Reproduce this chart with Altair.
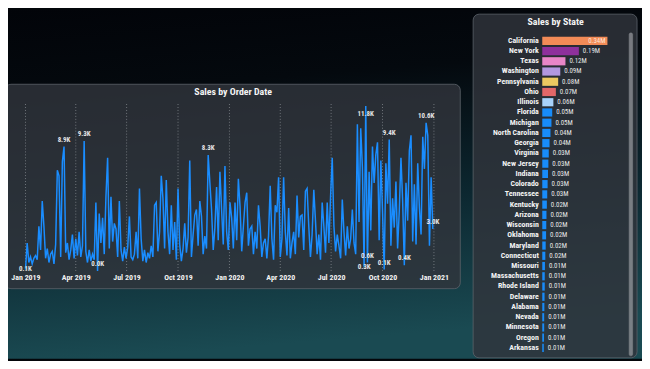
import altair as alt
import pandas as pd

W, H = 642, 353
FONT = "Liberation Sans Narrow, Roboto Condensed, Roboto, sans-serif"

# ---------------- data ----------------
# daily-ish sales (thousands), one reading every 3 days from 2019-01-01
sales_k = [
    0.1, 2.0, 0.6, 1.0, 0.5, 0.9, 1.1, 0.8, 3.2, 1.5,
    5.0, 3.2, 0.9, 1.6, 0.6, 1.2, 1.4, 0.5, 1.9, 7.2,
    6.8, 1.0, 7.8, 8.9, 1.3, 2.0, 0.8, 1.5, 2.6, 0.9,
    2.3, 1.1, 2.8, 1.0, 1.8, 9.3, 1.4, 0.6, 1.5, 0.7,
    1.2, 0.8, 4.9, 0.0, 4.1, 2.0, 3.8, 1.2, 5.3, 8.1,
    1.6, 5.3, 2.1, 3.4, 3.0, 1.0, 5.0, 1.5, 0.7, 1.7,
    0.9, 1.7, 3.9, 1.0, 0.8, 1.2, 2.8, 0.9, 5.9, 2.3,
    0.7, 1.5, 0.6, 1.3, 0.9, 1.8, 1.0, 4.7, 4.9, 1.4,
    2.8, 6.8, 5.2, 1.6, 6.5, 2.8, 1.2, 4.7, 1.5, 3.5,
    0.8, 5.9, 1.9, 0.7, 1.6, 3.4, 1.3, 2.4, 7.9, 1.0,
    2.6, 4.0, 4.4, 1.8, 5.0, 3.9, 1.2, 2.5, 1.6, 8.3,
    6.3, 4.4, 1.5, 3.1, 6.0, 2.2, 7.1, 4.4, 1.9, 7.5,
    2.8, 1.5, 4.9, 3.8, 1.6, 4.9, 2.2, 6.6, 4.6, 1.4,
    3.2, 4.9, 5.6, 1.8, 3.0, 3.2, 1.2, 2.8, 1.6, 4.7,
    3.2, 1.0, 2.0, 2.3, 0.9, 2.5, 6.1, 2.3, 0.8, 4.7,
    4.2, 6.7, 1.0, 2.3, 6.7, 2.8, 1.1, 4.5, 0.9, 2.0,
    2.8, 1.2, 5.4, 2.4, 3.9, 4.0, 1.5, 5.7, 5.9, 3.2,
    1.0, 2.6, 5.8, 3.6, 1.2, 2.6, 0.8, 4.9, 3.2, 1.3,
    4.9, 2.0, 5.3, 8.1, 3.2, 1.4, 2.6, 1.8, 0.9, 5.1,
    2.8, 1.1, 3.2, 1.6, 2.3, 4.4, 2.0, 1.2, 10.5, 3.5,
    10.2, 7.4, 0.3, 11.8, 0.6, 7.1, 2.9, 8.9, 6.3, 8.3,
    9.2, 2.2, 7.9, 4.3, 0.1, 7.7, 4.8, 9.4, 1.8, 5.2,
    3.1, 6.4, 1.6, 4.3, 8.1, 5.0, 0.4, 6.3, 3.6, 8.6,
    9.7, 2.1, 6.2, 1.9, 7.7, 4.5, 2.6, 9.6, 7.3, 10.6,
    9.7, 1.8, 6.7, 3.0,
]
series_start = "2019-01-01"
series_step = "3D"

quarter_ticks = ["2019-01-01", "2019-04-01", "2019-07-01", "2019-10-01",
                 "2020-01-01", "2020-04-01", "2020-07-01", "2020-10-01",
                 "2021-01-01"]

# dates of the points that carry a data label
labels_above = ["2019-03-11", "2019-04-16", "2019-05-10", "2019-11-24",
                "2020-09-04", "2020-10-04", "2020-10-13", "2020-11-09",
                "2020-12-18", "2020-12-30"]
labels_below = ["2020-09-01"]
labels_level = ["2019-01-01", "2020-08-29"]

states = ["California", "New York", "Texas", "Washington", "Pennsylvania",
          "Ohio", "Illinois", "Florida", "Michigan", "North Carolina",
          "Georgia", "Virginia", "New Jersey", "Indiana", "Colorado",
          "Tennessee", "Kentucky", "Arizona", "Wisconsin", "Oklahoma",
          "Maryland", "Connecticut", "Missouri", "Massachusetts",
          "Rhode Island", "Delaware", "Alabama", "Nevada", "Minnesota",
          "Oregon", "Arkansas"]
state_sales_m = [0.340, 0.191, 0.121, 0.094, 0.083, 0.071, 0.058, 0.052,
                 0.048, 0.043, 0.038, 0.034, 0.032, 0.030, 0.028, 0.026,
                 0.024, 0.022, 0.021, 0.020, 0.018, 0.016, 0.014, 0.013,
                 0.013, 0.012, 0.011, 0.010, 0.010, 0.009, 0.008]

title_left = "Sales by Order Date"
title_right = "Sales by State"

# ---------------- styles ----------------
BLUE = "#1a8dff"
bar_colors = ["#f28b57", "#8e309c", "#e886c8", "#b298e0", "#ecc961",
              "#e26768", "#a8d2fa"] + ["#188cfa"] * (len(states) - 7)

# ---------------- frames ----------------
dates = pd.date_range(series_start, periods=len(sales_k), freq=series_step)
ts = pd.DataFrame({"date": dates, "sales": sales_k})
ts["label"] = ts["sales"].map(lambda v: f"{v:.1f}K")


def pick(ds):
    return ts[ts["date"].isin(pd.to_datetime(ds))]


grid_df = pd.DataFrame({"date": pd.to_datetime(quarter_ticks)})
st = pd.DataFrame({"state": states, "sales": state_sales_m})
st["label"] = st["sales"].map(lambda v: f"{v:.2f}M")
one = pd.DataFrame({"k": [0]})


def dt(s):
    return alt.DateTime(year=int(s[:4]), month=int(s[5:7]), date=int(s[8:10]))


# ---------------- decoration ----------------
bg = alt.Chart(one).mark_rect(
    fill=alt.LinearGradient(
        gradient="linear", x1=0, y1=0, x2=0.15, y2=1,
        stops=[alt.GradientStop(color="#020409", offset=0),
               alt.GradientStop(color="#04090e", offset=0.25),
               alt.GradientStop(color="#0c2730", offset=0.62),
               alt.GradientStop(color="#1a4a52", offset=1)])
).encode(x=alt.value(0), x2=alt.value(W), y=alt.value(0), y2=alt.value(H))

panel_style = dict(cornerRadius=6, fill="#31353c", fillOpacity=0.82,
                   stroke="#5d636b", strokeWidth=1, strokeOpacity=0.8)
panel_left = alt.Chart(one).mark_rect(**panel_style).encode(
    x=alt.value(-3), x2=alt.value(458), y=alt.value(75), y2=alt.value(282))
panel_right = alt.Chart(one).mark_rect(**panel_style).encode(
    x=alt.value(471), x2=alt.value(637), y=alt.value(4), y2=alt.value(352))
scrollbar = alt.Chart(one).mark_rect(
    cornerRadius=1.5, fill="#b9bcc0", fillOpacity=0.55,
    stroke="#7d8287", strokeWidth=0.6
).encode(x=alt.value(629), x2=alt.value(632.5), y=alt.value(23), y2=alt.value(350))

title_style = dict(font=FONT, fontSize=10, fontWeight="bold", color="#f4f4f4",
                   align="center", baseline="middle")
t_left = alt.Chart(pd.DataFrame({"t": [title_left]})).mark_text(**title_style).encode(
    x=alt.value(228), y=alt.value(83), text="t:N")
t_right = alt.Chart(pd.DataFrame({"t": [title_right]})).mark_text(**title_style).encode(
    x=alt.value(554.5), y=alt.value(11.5), text="t:N")

# ---------------- line chart ----------------
x_scale = alt.Scale(domain=[dt("2019-01-01"), dt("2021-01-01")], range=[17.7, 431.3])
y_scale = alt.Scale(domain=[0, 12], range=[264, 94.2])
x_axis = alt.Axis(orient="bottom", offset=-89, values=[dt(d) for d in quarter_ticks],
                  format="%b %Y", grid=False, domain=False, ticks=False,
                  labelPadding=3, labelFont=FONT, labelFontSize=8,
                  labelFontWeight="bold", labelColor="#f2f2f2",
                  labelOverlap=False, labelFlush=False, labelBound=False,
                  title=None, zindex=2)
x_enc = alt.X("date:T", scale=x_scale, axis=x_axis)
y_enc = alt.Y("sales:Q", scale=y_scale, axis=None)

grid = alt.Chart(grid_df).mark_rule(
    color="#a3a8ad", strokeDash=[1, 2], strokeWidth=1, opacity=0.6
).encode(
    x=x_enc,
    y=alt.YDatum(0, type="quantitative", scale=y_scale, axis=None),
    y2=alt.Y2Datum(12),
)
line = alt.Chart(ts).mark_line(color=BLUE, strokeWidth=1.5).encode(x=x_enc, y=y_enc)

lab_style = dict(font=FONT, fontSize=7, fontWeight="bold", color="#e6e6e6",
                 align="center", baseline="middle")
lab_above = alt.Chart(pick(labels_above)).mark_text(dy=-7, **lab_style).encode(
    x=x_enc, y=y_enc, text="label:N")
lab_below = alt.Chart(pick(labels_below)).mark_text(dy=8, **lab_style).encode(
    x=x_enc, y=y_enc, text="label:N")
lab_level = alt.Chart(pick(labels_level)).mark_text(dy=0, **lab_style).encode(
    x=x_enc, y=y_enc, text="label:N")

left_group = alt.layer(grid, line, lab_above, lab_below, lab_level)

# ---------------- bar chart ----------------
y_state = alt.Y("state:N", sort=states,
                scale=alt.Scale(range=[25.8, 347.2], paddingInner=0.2, paddingOuter=0.1),
                axis=alt.Axis(orient="left", offset=-541, domain=False, ticks=False,
                              grid=False, labelPadding=4, labelFont=FONT,
                              labelFontSize=8, labelFontWeight="bold",
                              labelColor="#f2f2f2", labelOverlap=False, title=None,
                              zindex=2))
x_bar = alt.X("sales:Q", scale=alt.Scale(domain=[0, 0.34], range=[541, 607]), axis=None)

bars = alt.Chart(st).mark_bar().encode(
    y=y_state, x=x_bar,
    color=alt.Color("state:N", scale=alt.Scale(domain=states, range=bar_colors), legend=None),
)
bar_out = alt.Chart(st).transform_filter(alt.datum.state != states[0]).mark_text(
    align="left", baseline="middle", dx=4, font=FONT, fontSize=7, color="#e6e6e6"
).encode(y=y_state, x=x_bar, text="label:N")
bar_in = alt.Chart(st).transform_filter(alt.datum.state == states[0]).mark_text(
    align="right", baseline="middle", dx=-2, font=FONT, fontSize=7, color="#fde4d4"
).encode(y=y_state, x=x_bar, text="label:N")

right_group = alt.layer(bars, bar_out, bar_in)

chart = alt.layer(
    bg, panel_left, panel_right, scrollbar, t_left, t_right, left_group, right_group
).resolve_scale(x="independent", y="independent").properties(
    width=W, height=H, padding=0,
    autosize=alt.AutoSizeParams(type="none"),
    background="#03060a",
).configure_view(stroke=None)

chart.save("out.html", embed_options={"renderer": "svg", "actions": False})
